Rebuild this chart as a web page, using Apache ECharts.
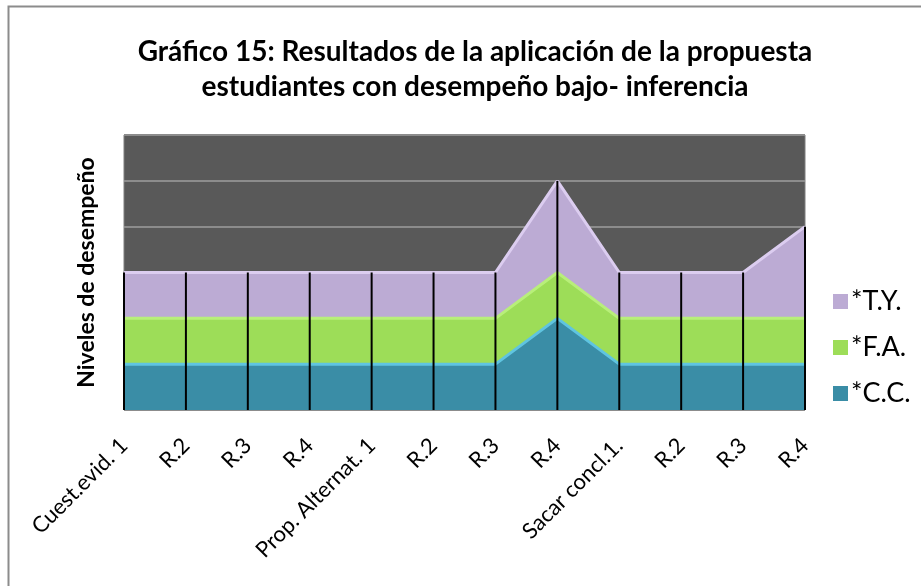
<!DOCTYPE html>
<html>
<head>
<meta charset="utf-8">
<script src="https://cdn.jsdelivr.net/npm/echarts@6/dist/echarts.min.js"></script>
<style>html,body{margin:0;padding:0;background:#fff}#c{width:921px;height:586px}</style>
</head>
<body>
<div id="c"></div>
<script>
var categories = ["Cuest.evid. 1","R.2","R.3","R.4","Prop. Alternat. 1","R.2","R.3","R.4","Sacar concl.1.","R.2","R.3","R.4"];
var ccValues = [1,1,1,1,1,1,1,2,1,1,1,1];
var faValues = [1,1,1,1,1,1,1,1,1,1,1,1];
var tyValues = [1,1,1,1,1,1,1,2,1,1,1,2];
var seriesNames = ["*C.C.","*F.A.","*T.Y."];
var titleText = "Gráfico 15: Resultados de la aplicación de la propuesta\nestudiantes con desempeño bajo- inferencia";
var yAxisName = "Niveles de desempeño";

var totals = categories.map(function(_, i){ return ccValues[i] + faValues[i] + tyValues[i]; });
var FONT = "Lato";

var chart = echarts.init(document.getElementById('c'));
function areaSeries(name, data, fill, edge){
  return {
    name: name, type: 'line', stack: 'all', data: data,
    symbol: 'none', smooth: false,
    lineStyle: { color: edge, width: 3 },
    areaStyle: { color: fill, opacity: 1 },
    itemStyle: { color: fill },
    z: 2
  };
}
chart.setOption({
  animation: false,
  title: {
    text: titleText, left: 470, top: 29, textAlign: 'center',
    textStyle: { fontFamily: FONT, fontWeight: 'bold', fontSize: 28, color: '#000', lineHeight: 35 }
  },
  legend: {
    orient: 'vertical', left: 828, top: 283, itemGap: 19,
    itemWidth: 15, itemHeight: 15,
    data: [
      { name: '*T.Y.', icon: 'rect' },
      { name: '*F.A.', icon: 'rect' },
      { name: '*C.C.', icon: 'rect' }
    ],
    textStyle: { fontFamily: FONT, fontSize: 27, color: '#000', padding: [0,0,0,-2] }
  },
  grid: {
    left: 124, right: 116, top: 135, bottom: 176,
    show: true, backgroundColor: '#595959', borderColor: '#7f7f7f', borderWidth: 1
  },
  xAxis: {
    type: 'category', data: categories, boundaryGap: false,
    axisLine: { show: false }, axisTick: { show: false },
    axisLabel: { rotate: 45, fontFamily: FONT, fontSize: 22, color: '#000', margin: 32, interval: 0 },
    splitLine: { show: false }
  },
  yAxis: {
    type: 'value', min: 0, max: 6, interval: 1,
    name: yAxisName, nameLocation: 'middle', nameGap: 26, nameRotate: 90,
    nameTextStyle: { fontFamily: FONT, fontWeight: 'bold', fontSize: 23, color: '#000' },
    axisLabel: { show: false }, axisLine: { show: false }, axisTick: { show: false },
    splitLine: { show: true, lineStyle: { color: '#8c8c8c', width: 2 } }
  },
  series: [
    areaSeries(seriesNames[0], ccValues, '#3a8da6', '#5fc4e0'),
    areaSeries(seriesNames[1], faValues, '#9ddd58', '#b8ef7a'),
    areaSeries(seriesNames[2], tyValues, '#bcabd4', '#dccdf0'),
    {
      type: 'custom', name: 'drop', data: totals.map(function(t, i){ return [i, t]; }),
      renderItem: function(params, api){
        var top = api.coord([api.value(0), api.value(1)]);
        var bot = api.coord([api.value(0), 0]);
        return { type: 'line', shape: { x1: top[0], y1: top[1], x2: bot[0], y2: bot[1] },
                 style: { stroke: '#000', lineWidth: 2 } };
      },
      z: 5, silent: true, tooltip: { show: false }
    }
  ],
  graphic: [
    { type: 'rect', shape: { x: 8.5, y: 6.5, width: 1000, height: 1000 },
      style: { fill: 'none', stroke: '#8c8c8c', lineWidth: 2 }, silent: true }
  ]
});
</script>
</body>
</html>
